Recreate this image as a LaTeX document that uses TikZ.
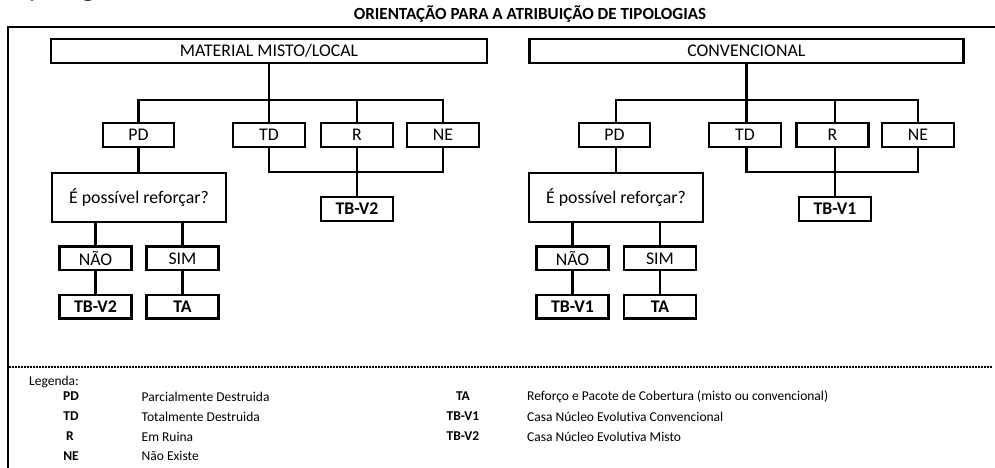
\documentclass[tikz,border=0pt]{standalone}
\usepackage{fontspec}
\setmainfont{Carlito}[Ligatures={NoCommon}]
\begin{document}
\begin{tikzpicture}[x=1pt,y=-1pt,
  box/.style={draw=black,line width=2.4pt,inner sep=0pt,font=\fontsize{17.8}{20}\selectfont},
  tbox/.style={box,font=\fontsize{17.8}{20}\selectfont\bfseries},
  wire/.style={draw=black,line width=2.1pt},
  lg/.style={font=\fontsize{13.5}{15}\selectfont,inner sep=0pt},
  lgb/.style={font=\fontsize{13.5}{15}\selectfont\bfseries,inner sep=0pt}]
\useasboundingbox (0,0) rectangle (995,468);
\begin{scope}
\clip (0,0) rectangle (995,468);
\node[anchor=base west,inner sep=0pt,text=black!85,font=\fontsize{29}{30}\selectfont] (head) at (8,-3) {Tipologias};
\end{scope}
\node[font=\fontsize{17}{19}\selectfont\bfseries,inner sep=0pt] (title) at (530,14) {ORIENTAÇÃO PARA A ATRIBUIÇÃO DE TIPOLOGIAS};
% frame
\draw[line width=2pt] (8,468) -- (8,27) -- (995,27);
\draw[line width=1.5pt,dash pattern=on 1.5pt off 1.5pt] (9,367) -- (993,367);
% left tree
\node[box,minimum width=436pt,minimum height=24pt] (mml) at (269,51) {MATERIAL MISTO/LOCAL};
\node[box,minimum width=71pt,minimum height=23.5pt] (pd1) at (138.5,135) {PD};
\node[box,minimum width=72pt,minimum height=23.5pt] (td1) at (269,135) {TD};
\node[box,minimum width=72pt,minimum height=23.5pt] (r1) at (357,135) {R};
\node[box,minimum width=72pt,minimum height=23.5pt] (ne1) at (443,135) {NE};
\node[tbox,minimum width=72pt,minimum height=24pt] (tb2a) at (357,209) {TB-V2};
\node[box,minimum width=174pt,minimum height=49pt] (q1) at (139,197.2) {É possível reforçar?};
\node[box,minimum width=72pt,minimum height=23.5pt] (nao1) at (95.5,258.3) {NÃO};
\node[box,minimum width=72pt,minimum height=23.5pt] (sim1) at (182.5,258.3) {SIM};
\node[tbox,minimum width=72pt,minimum height=23.5pt] (tb2b) at (95.5,306.7) {TB-V2};
\node[tbox,minimum width=72pt,minimum height=23.5pt] (ta1) at (182.5,306.7) {TA};
\coordinate (ja) at (269,100);
\coordinate (jb) at (269,172);
\draw[wire] (mml.south) -- (mml.south |- ja);
\draw[wire] (pd1.north) -- (pd1.north |- ja) -- (ne1.north |- ja) -- (ne1.north);
\draw[wire] (td1.north) -- (td1.north |- ja);
\draw[wire] (r1.north) -- (r1.north |- ja);
\draw[wire] (td1.south) -- (td1.south |- jb) -- (ne1.south |- jb) -- (ne1.south);
\draw[wire] (r1.south) -- (tb2a.north);
\draw[wire] (pd1.south) -- (pd1.south |- q1.north);
\draw[wire] (nao1.north |- q1.south) -- (nao1.north);
\draw[wire] (sim1.north |- q1.south) -- (sim1.north);
\draw[wire] (nao1.south) -- (tb2b.north);
\draw[wire] (sim1.south) -- (ta1.north);
% right tree
\node[box,minimum width=434pt,minimum height=24pt] (conv) at (746.3,51) {CONVENCIONAL};
\node[box,minimum width=71pt,minimum height=23.5pt] (pd2) at (614.5,135) {PD};
\node[box,minimum width=72pt,minimum height=23.5pt] (td2) at (745,135) {TD};
\node[box,minimum width=72pt,minimum height=23.5pt] (r2) at (832.5,135) {R};
\node[box,minimum width=72pt,minimum height=23.5pt] (ne2) at (918,135) {NE};
\node[tbox,minimum width=72pt,minimum height=23.5pt] (tb1a) at (835,209) {TB-V1};
\node[box,minimum width=174pt,minimum height=49pt] (q2) at (616,197.2) {É possível reforçar?};
\node[box,minimum width=72pt,minimum height=23.5pt] (nao2) at (572.5,258.3) {NÃO};
\node[box,minimum width=72pt,minimum height=23.5pt] (sim2) at (660,258.3) {SIM};
\node[tbox,minimum width=72pt,minimum height=23.5pt] (tb1b) at (572.5,306.7) {TB-V1};
\node[tbox,minimum width=72pt,minimum height=23.5pt] (ta2) at (660,306.7) {TA};
\coordinate (jc) at (746.5,100);
\coordinate (jd) at (746.5,172.3);
\draw[wire] (conv.south -| jc) -- (jc);
\draw[wire] (pd2.north -| q2.north) -- (q2.north |- jc) -- (ne2.north |- jc) -- (ne2.north);
\draw[wire] (td2.north -| jc) -- (jc);
\draw[wire] (r2.north -| tb1a.north) -- (tb1a.north |- jc);
\draw[wire] (td2.south -| jc) -- (jd) -- (ne2.south |- jd) -- (ne2.south);
\draw[wire] (r2.south -| tb1a.north) -- (tb1a.north);
\draw[wire] (pd2.south -| q2.north) -- (q2.north);
\draw[wire] (nao2.north |- q2.south) -- (nao2.north);
\draw[wire] (sim2.north |- q2.south) -- (sim2.north);
\draw[wire] (nao2.south) -- (tb1b.north);
\draw[wire] (sim2.south) -- (ta2.north);
% legend
\node[lg,anchor=west] (leg) at (29,381.5) {Legenda:};
\node[lgb] (kpd) at (71,396.5) {PD};
\node[lgb] (ktd) at (71,416.5) {TD};
\node[lgb] (kr) at (70,436.5) {R};
\node[lgb] (kne) at (71,455.7) {NE};
\node[lg,anchor=west] (dpd) at (141.5,396.5) {Parcialmente Destruida};
\node[lg,anchor=west] (dtd) at (141.5,416.5) {Totalmente Destruida};
\node[lg,anchor=west] (dr) at (141.5,436.5) {Em Ruina};
\node[lg,anchor=west] (dne) at (141.5,455.7) {Não Existe};
\node[lgb] (kta) at (463,396.5) {TA};
\node[lgb] (kv1) at (463,416.5) {TB-V1};
\node[lgb] (kv2) at (463,436.5) {TB-V2};
\node[lg,anchor=west] (dta) at (527,396.5) {Reforço e Pacote de Cobertura (misto ou convencional)};
\node[lg,anchor=west] (dv1) at (527,416.5) {Casa Núcleo Evolutiva Convencional};
\node[lg,anchor=west] (dv2) at (527,436.5) {Casa Núcleo Evolutiva Misto};
\end{tikzpicture}
\end{document}
